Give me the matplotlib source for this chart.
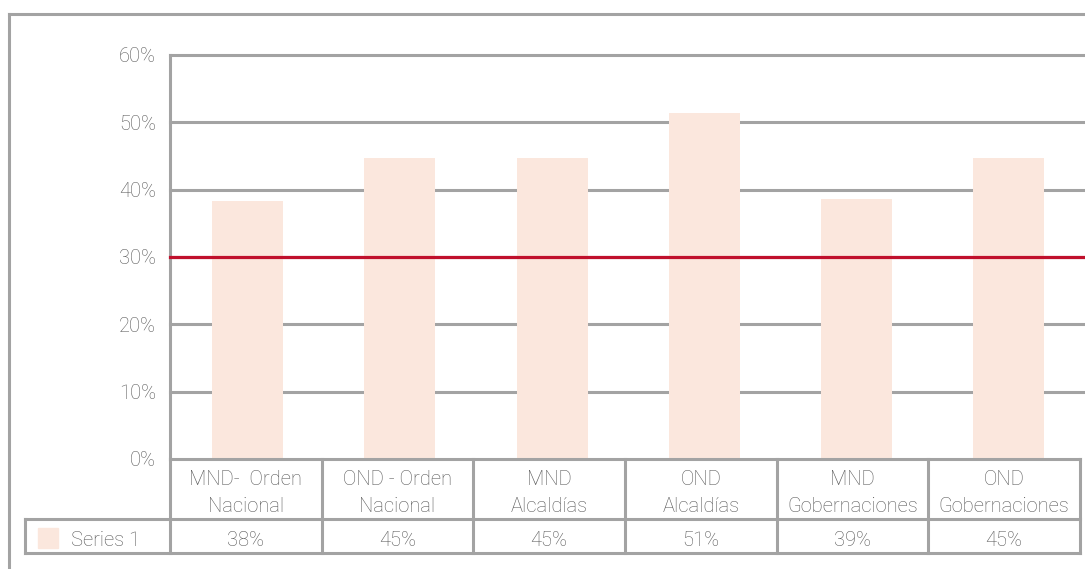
import matplotlib
matplotlib.use('Agg')
import matplotlib.pyplot as plt
from matplotlib.lines import Line2D
from matplotlib.patches import Rectangle

# data
categories = ['MND-  Orden\nNacional', 'OND - Orden\nNacional', 'MND\nAlcaldías',
              'OND\nAlcaldías', 'MND\nGobernaciones', 'OND\nGobernaciones']
values = [0.383, 0.447, 0.447, 0.514, 0.386, 0.447]
table_labels = ['38%', '45%', '45%', '51%', '39%', '45%']
series_name = 'Series 1'
target = 0.30
yticks = [0, 0.1, 0.2, 0.3, 0.4, 0.5, 0.6]

bar_color = '#FBE7DD'
grid_color = '#A3A3A3'
text_color = '#585858'
red = '#C0102C'

plt.rcParams['font.family'] = ['Roboto', 'DejaVu Sans']
plt.rcParams['font.weight'] = 'light'
fs = 14.5

W, H = 1085, 569
fig = plt.figure(figsize=(W / 100, H / 100), dpi=100)

# axes in pixel positions
left, right, top, bottom = 170, 1080, 55, 459
ax = fig.add_axes([left / W, 1 - bottom / H, (right - left) / W, (bottom - top) / H])

n = len(values)
x = range(n)
ax.bar(x, values, width=0.467, color=bar_color, zorder=2)
ax.axhline(target, color=red, lw=2.3, zorder=3, xmax=1.006, clip_on=False)
ax.set_xlim(-0.51, 5.468)
ax.set_ylim(0, 0.6)
ax.set_yticks(yticks)
ax.set_yticklabels([f'{int(round(t * 100))}%' for t in yticks], fontsize=fs, color=text_color)
ax.tick_params(axis='y', length=0, pad=10)
ax.set_xticks([])
for t in yticks[1:]:
    ax.axhline(t, color=grid_color, lw=2.2, zorder=1, xmax=1.006, clip_on=False)
for s in ['top', 'right', 'bottom']:
    ax.spines[s].set_visible(False)
ax.spines['left'].set_color(grid_color)
ax.spines['left'].set_linewidth(2.2)

# data table below the axes (axes-fraction coordinates, one column per category)
row1 = (bottom - 519) / (bottom - top)
row2 = (bottom - 553) / (bottom - top)
leg_left = (25 - left) / (right - left)
tr = ax.transAxes
lkw = dict(color=grid_color, lw=2.2, clip_on=False, solid_capstyle='projecting', transform=tr)
ax.add_line(Line2D([0, 1], [0, 0], **lkw))
ax.add_line(Line2D([leg_left, 1], [row1, row1], **lkw))
ax.add_line(Line2D([leg_left, 1], [row2, row2], **lkw))
ax.add_line(Line2D([leg_left, leg_left], [row1, row2], **lkw))
for i in range(n + 1):
    ax.add_line(Line2D([i / n, i / n], [0, row2], **lkw))
for i, (c, v) in enumerate(zip(categories, table_labels)):
    cx = (i + 0.5) / n
    ax.text(cx, row1 / 2 - 0.01, c, transform=tr, ha='center', va='center',
            fontsize=fs, color=text_color, linespacing=1.5)
    ax.text(cx, (row1 + row2) / 2 - 0.01, v, transform=tr, ha='center', va='center',
            fontsize=fs, color=text_color)

# legend key in table
ax.add_patch(Rectangle(((38 - left) / (right - left), (bottom - 548) / (bottom - top)),
                       20 / (right - left), 20 / (bottom - top), transform=tr,
                       color=bar_color, clip_on=False))
ax.text((71 - left) / (right - left), (row1 + row2) / 2 - 0.01, series_name, transform=tr,
        ha='left', va='center', fontsize=fs, color=text_color)

# outer chart frame
fig.add_artist(Line2D([9 / W, 1.01], [1 - 14 / H, 1 - 14 / H], color=grid_color, lw=2.2))
fig.add_artist(Line2D([9 / W, 9 / W], [1 - 14 / H, -0.01], color=grid_color, lw=2.2))

fig.savefig('out.png', dpi=100)
